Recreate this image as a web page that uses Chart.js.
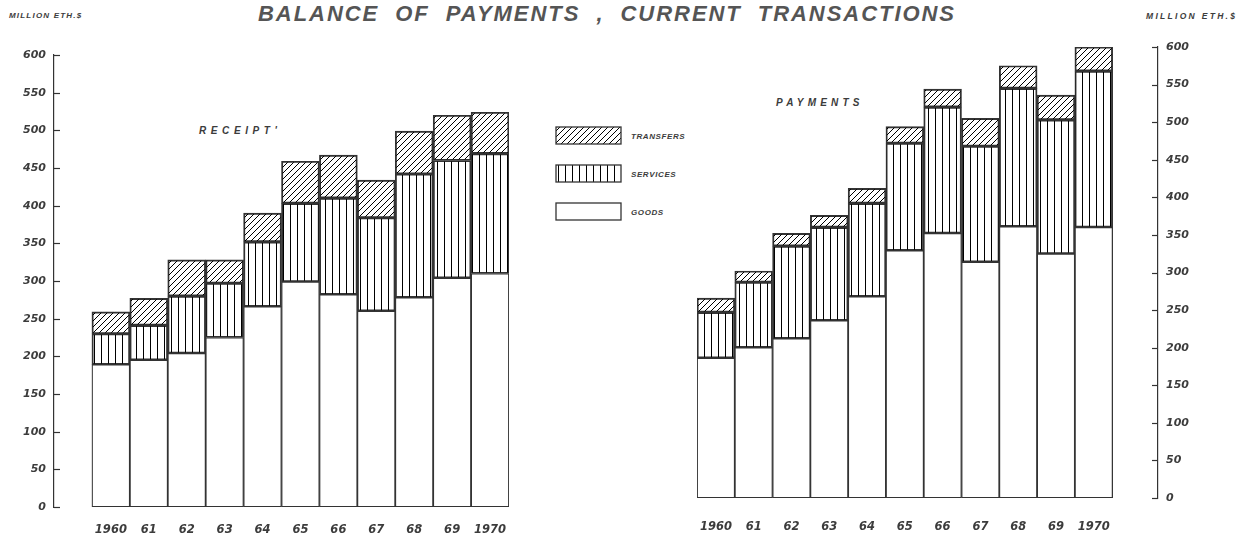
<!DOCTYPE html>
<html>
<head>
<meta charset="utf-8">
<title>Balance of payments, current transactions</title>
<script src="https://cdn.jsdelivr.net/npm/chart.js@4.4.1/dist/chart.umd.min.js"></script>
<style>
  html, body { margin: 0; padding: 0; background: #fff; }
  body {
    width: 1243px; height: 535px; position: relative; overflow: hidden;
    font-family: "Liberation Sans", Arial, sans-serif;
    font-style: italic; font-weight: bold; color: #3c3c3c;
  }
  .txt { position: absolute; white-space: nowrap; line-height: 1; }
  #title { left: 258px; top: 3px; font-size: 22px; letter-spacing: 1.95px; word-spacing: 8px; color: #555; }
  .unit { top: 12px; font-size: 8px; letter-spacing: 1.2px; }
  .panel { font-size: 10px; letter-spacing: 4.6px; }
  .key { font-size: 8px; letter-spacing: 0.6px; left: 631px; }
  canvas.chart { position: absolute; top: 0; }
  canvas.swatch { position: absolute; left: 555px; }
</style>
</head>
<body>
<div id="title" class="txt">BALANCE OF PAYMENTS , CURRENT TRANSACTIONS</div>
<div class="txt unit" style="left:9px">MILLION ETH.$</div>
<div class="txt unit" style="left:1146px; font-size:8.5px; letter-spacing:2.3px">MILLION ETH.$</div>
<div class="txt panel" style="left:199px; top:126px">RECEIPT'</div>
<div class="txt panel" style="left:776px; top:98px; letter-spacing:4.2px">PAYMENTS</div>

<canvas class="swatch" id="swTransfers" width="67" height="19" style="top:126px"></canvas>
<canvas class="swatch" id="swServices" width="67" height="19" style="top:164px"></canvas>
<canvas class="swatch" id="swGoods" width="67" height="19" style="top:202px"></canvas>
<div class="txt key" style="top:133px">TRANSFERS</div>
<div class="txt key" style="top:171px">SERVICES</div>
<div class="txt key" style="top:209px">GOODS</div>

<canvas class="chart" id="receipts" width="560" height="535" style="left:0"></canvas>
<canvas class="chart" id="payments" width="563" height="535" style="left:680px"></canvas>

<script>
// million Eth. $, 1960-1970
const years = ['1960', '61', '62', '63', '64', '65', '66', '67', '68', '69', '1970'];
const yTicks = [0, 50, 100, 150, 200, 250, 300, 350, 400, 450, 500, 550, 600];

const receiptGoods     = [189, 195, 204, 225, 266, 299, 282, 260, 278, 304, 310];
const receiptServices  = [41, 46, 76, 72, 86, 104, 128, 124, 164, 156, 159];
const receiptTransfers = [29, 36, 48, 31, 38, 56, 57, 50, 57, 60, 55];

const paymentGoods     = [186, 200, 212, 236, 268, 329, 352, 314, 361, 325, 360];
const paymentServices  = [61, 87, 123, 124, 124, 143, 168, 154, 184, 178, 208];
const paymentTransfers = [19, 15, 17, 16, 20, 22, 24, 37, 30, 33, 32];

const INK = '#333';

function hatch(kind) {
  const c = document.createElement('canvas');
  const g = c.getContext('2d');
  g.strokeStyle = '#444';
  g.lineWidth = 1;
  if (kind === 'diagonal') {
    c.width = c.height = 6;
    g.beginPath();
    g.moveTo(0, 6); g.lineTo(6, 0);
    g.moveTo(-1, 1); g.lineTo(1, -1);
    g.moveTo(5, 7); g.lineTo(7, 5);
    g.stroke();
  } else {
    c.width = 7; c.height = 4;
    g.beginPath();
    g.moveTo(3.5, 0); g.lineTo(3.5, 4);
    g.stroke();
  }
  return g.createPattern(c, 'repeat');
}

const fills = {
  goods: '#ffffff',
  services: hatch('vertical'),
  transfers: hatch('diagonal')
};

function swatch(id, fill) {
  const c = document.getElementById(id);
  const g = c.getContext('2d');
  g.fillStyle = fill;
  g.fillRect(1, 1, c.width - 2, c.height - 2);
  g.strokeStyle = INK;
  g.lineWidth = 1.3;
  g.strokeRect(1, 1, c.width - 2, c.height - 2);
}
swatch('swTransfers', fills.transfers);
swatch('swServices', fills.services);
swatch('swGoods', fills.goods);

// short tick marks drawn from the axis line towards the bars
const innerTicks = {
  id: 'innerTicks',
  afterDraw(chart) {
    const y = chart.scales.y;
    const left = y.position === 'left';
    const x0 = left ? chart.chartArea.left : chart.chartArea.right;
    const dir = left ? 1 : -1;
    const ctx = chart.ctx;
    ctx.save();
    ctx.strokeStyle = INK;
    ctx.lineWidth = 1.2;
    y.ticks.forEach(t => {
      const py = Math.round(y.getPixelForValue(t.value)) + 0.5;
      ctx.beginPath();
      ctx.moveTo(x0, py);
      ctx.lineTo(x0 + dir * 6, py);
      ctx.stroke();
    });
    ctx.restore();
  }
};

function series(values) {
  return values.map((v, i) => ({ x: i, y: v }));
}

function dataset(label, values, fill) {
  return {
    label,
    data: series(values),
    backgroundColor: fill,
    borderColor: INK,
    borderWidth: 1.25,
    borderSkipped: false,
    barPercentage: 1,
    categoryPercentage: 1,
    stack: 'total'
  };
}

function makeChart(id, goods, services, transfers, opts) {
  const tickFont = { family: '"DejaVu Sans", Verdana, sans-serif', size: 11, style: 'italic', weight: 'bold' };
  return new Chart(document.getElementById(id), {
    type: 'bar',
    data: {
      datasets: [
        dataset('GOODS', goods, fills.goods),
        dataset('SERVICES', services, fills.services),
        dataset('TRANSFERS', transfers, fills.transfers)
      ]
    },
    options: {
      responsive: false,
      animation: false,
      events: [],
      layout: { padding: opts.padding },
      plugins: { legend: { display: false }, tooltip: { enabled: false } },
      scales: {
        x: {
          type: 'linear',
          stacked: true,
          offset: false,
          min: opts.xMin,
          max: opts.xMax,
          grid: { display: false },
          border: { display: false },
          afterBuildTicks: s => { s.ticks = years.map((_, i) => ({ value: i })); },
          afterFit: s => { s.height = opts.xHeight; },
          ticks: {
            autoSkip: false,
            maxRotation: 0,
            padding: opts.xPad,
            color: '#3c3c3c',
            font: Object.assign({}, tickFont, { size: 11.5 }),
            callback: (v, i) => years[i]
          }
        },
        y: {
          position: opts.side,
          stacked: true,
          min: 0,
          max: 600,
          grid: { display: false },
          border: { display: true, color: INK, width: 1.2 },
          afterBuildTicks: s => { s.ticks = yTicks.map(v => ({ value: v })); },
          afterFit: s => { s.width = opts.yWidth; },
          ticks: {
            padding: 0,
            color: '#3c3c3c',
            font: tickFont
          }
        }
      }
    },
    plugins: [innerTicks]
  });
}

makeChart('receipts', receiptGoods, receiptServices, receiptTransfers, {
  side: 'left',
  padding: { top: 55, right: 51, left: 0, bottom: 0 },
  yWidth: 54,
  xHeight: 28,
  xPad: 8,
  xMin: -1.5,
  xMax: 10.5
});

makeChart('payments', paymentGoods, paymentServices, paymentTransfers, {
  side: 'right',
  padding: { top: 47, right: 0, left: 17, bottom: 0 },
  yWidth: 85,
  xHeight: 37,
  xPad: 14,
  xMin: -0.5,
  xMax: 11.7
});
</script>
</body>
</html>
